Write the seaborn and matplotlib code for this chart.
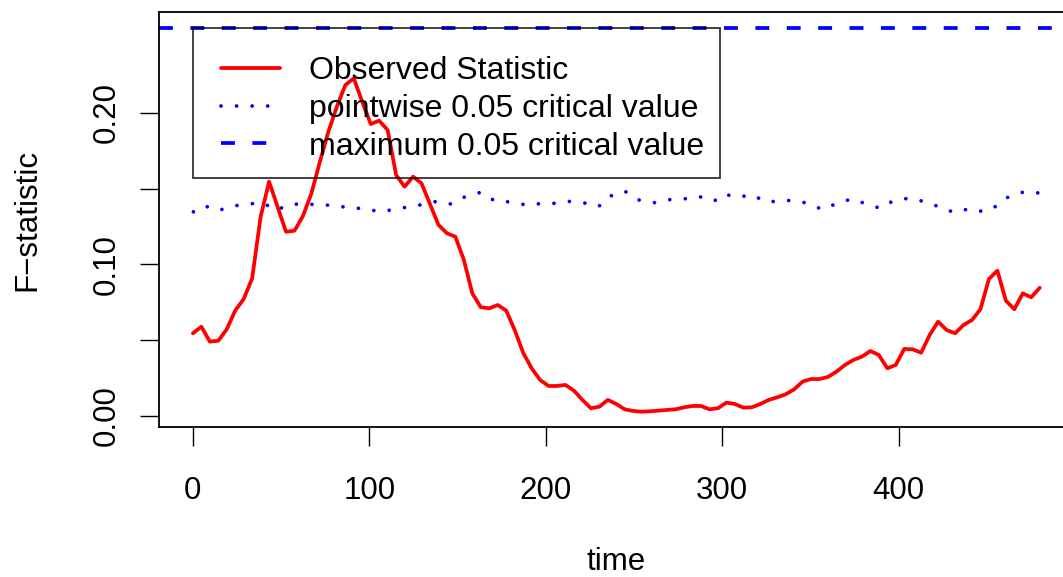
import numpy as np
import pandas as pd
import matplotlib
matplotlib.use("Agg")
import matplotlib.pyplot as plt
from matplotlib.lines import Line2D
from matplotlib.legend_handler import HandlerLine2D
import seaborn as sns

# ---------------- data ----------------
time = np.linspace(0, 480, 101)
observed = [0.0544, 0.0588, 0.0489, 0.0495, 0.0571, 0.0694, 0.0771, 0.0907, 0.1314, 0.1546,
            0.1380, 0.1215, 0.1222, 0.1319, 0.1469, 0.1678, 0.1876, 0.2041, 0.2184, 0.2229,
            0.2073, 0.1927, 0.1949, 0.1887, 0.1590, 0.1513, 0.1579, 0.1535, 0.1398, 0.1260,
            0.1205, 0.1182, 0.1028, 0.0808, 0.0716, 0.0709, 0.0731, 0.0694, 0.0566, 0.0416,
            0.0313, 0.0236, 0.0196, 0.0196, 0.0203, 0.0165, 0.0104, 0.0049, 0.0059, 0.0104,
            0.0077, 0.0042, 0.0031, 0.0026, 0.0029, 0.0033, 0.0038, 0.0042, 0.0055, 0.0064,
            0.0064, 0.0042, 0.0049, 0.0086, 0.0077, 0.0053, 0.0055, 0.0077, 0.0104, 0.0121,
            0.0141, 0.0174, 0.0225, 0.0242, 0.0242, 0.0256, 0.0291, 0.0335, 0.0368, 0.0390,
            0.0427, 0.0401, 0.0313, 0.0335, 0.0441, 0.0438, 0.0416, 0.0533, 0.0621, 0.0566,
            0.0544, 0.0599, 0.0632, 0.0703, 0.0903, 0.0958, 0.0760, 0.0703, 0.0808, 0.0782,
            0.0845]

pointwise_time = [0.3, 6.6, 14.0, 23.0, 31.9, 40.0, 47.2, 56.1, 64.4, 72.0,
                  81.1, 89.2, 97.3, 106.3, 113.4, 120.5, 129.6, 138.3, 146.4, 154.4,
                  163.3, 171.2, 180.1, 188.8, 196.3, 204.8, 213.9, 222.0, 229.8, 236.7,
                  244.7, 252.8, 261.5, 270.2, 278.1, 286.6, 295.5, 301.3, 308.4, 317.1,
                  324.4, 331.2, 339.7, 348.8, 356.9, 365.1, 373.8, 382.1, 389.8, 396.7,
                  405.3, 414.2, 422.9, 431.4, 440.1, 448.4, 455.2, 462.4, 470.9, 480.0]
pointwise_crit = [0.1347, 0.1387, 0.1354, 0.1385, 0.1400, 0.1403, 0.1359, 0.1398, 0.1396, 0.1396,
                  0.1385, 0.1374, 0.1367, 0.1347, 0.1361, 0.1376, 0.1394, 0.1416, 0.1398, 0.1447,
                  0.1476, 0.1418, 0.1412, 0.1392, 0.1400, 0.1403, 0.1416, 0.1405, 0.1380, 0.1451,
                  0.1484, 0.1425, 0.1407, 0.1427, 0.1431, 0.1449, 0.1418, 0.1464, 0.1442, 0.1460,
                  0.1413, 0.1416, 0.1423, 0.1403, 0.1361, 0.1403, 0.1433, 0.1396, 0.1370, 0.1418,
                  0.1436, 0.1416, 0.1380, 0.1343, 0.1367, 0.1347, 0.1383, 0.1447, 0.1478, 0.1471]
max_crit = 0.2563

legend_labels = ["Observed Statistic", "pointwise 0.05 critical value",
                 "maximum 0.05 critical value"]
x_ticks = [0, 100, 200, 300, 400]
y_ticks = [0.00, 0.05, 0.10, 0.15, 0.20]
y_tick_labels = ["0.00", "", "0.10", "", "0.20"]

# ---------------- style ----------------
sns.set_theme(style="white")
plt.rcParams["font.family"] = ["Liberation Sans", "DejaVu Sans"]
plt.rcParams["lines.scale_dashes"] = False
for key in ["text.color", "axes.labelcolor", "xtick.color", "ytick.color",
            "axes.edgecolor"]:
    plt.rcParams[key] = "black"

FS = 22.5
LFS = 23
LW = 2.7
DOT = (0, (0.01, 11.2))
DASH = (0, (10.0, 12.6))

fig = plt.figure(figsize=(10.63, 5.77), dpi=100)
ax = fig.add_axes([159 / 1063, 150 / 577, 914.6 / 1063, 414.7 / 577])

obs_df = pd.DataFrame({"time": time, "stat": observed})
pw_df = pd.DataFrame({"time": pointwise_time, "crit": pointwise_crit})

sns.lineplot(data=obs_df, x="time", y="stat", ax=ax, color="#FF0000", lw=LW,
             estimator=None, sort=False, solid_joinstyle="round")
sns.lineplot(data=pw_df, x="time", y="crit", ax=ax, color="#0000FF", lw=LW,
             estimator=None, sort=False, linestyle=DOT, dash_capstyle="round")
ax.axhline(max_crit, color="#0000FF", lw=LW, linestyle=DASH, dash_capstyle="butt")

ax.set_xlim(-19.2, 499.2)
ax.set_ylim(-0.0075, 0.2665)
ax.set_xticks(x_ticks)
ax.set_xticklabels([str(t) for t in x_ticks])
ax.set_yticks(y_ticks)
ax.set_yticklabels(y_tick_labels, rotation=90, va="center")
ax.tick_params(axis="both", which="major", labelsize=FS, length=14, width=1.0,
               color="black", labelcolor="black", direction="out")
ax.tick_params(axis="x", pad=21, bottom=True)
ax.tick_params(axis="y", pad=13, left=True)

for sp in ax.spines.values():
    sp.set_color("black")
    sp.set_linewidth(1.3)

ax.set_xlabel("time", fontsize=FS, color="black")
ax.set_ylabel("F\u2212statistic", fontsize=FS, color="black")
ax.xaxis.set_label_coords(0.5, (427 - 562) / 414.7)
ax.xaxis.label.set_va("center")
ax.yaxis.set_label_coords((27 - 159) / 914.6, 0.5)
ax.yaxis.label.set_va("center")
ax.yaxis.label.set_ha("center")

handles = [
    Line2D([], [], color="#FF0000", lw=LW),
    Line2D([], [], color="#0000FF", lw=LW, linestyle=DOT, dash_capstyle="round"),
    Line2D([], [], color="#0000FF", lw=LW, linestyle=DASH, dash_capstyle="butt"),
]
hl = HandlerLine2D(numpoints=2, marker_pad=0.376)
leg = ax.legend(handles, legend_labels, loc="upper left",
                bbox_to_anchor=(0, max_crit), bbox_transform=ax.transData,
                frameon=True, fancybox=False, shadow=False, borderaxespad=0,
                handlelength=2.6, handletextpad=0.53, borderpad=0.5,
                labelspacing=0.25, fontsize=LFS, title=" ", title_fontsize=2.5,
                handler_map={Line2D: hl})
for t in leg.get_texts():
    t.set_color("black")
frame = leg.get_frame()
frame.set_edgecolor("black")
frame.set_facecolor("none")
frame.set_linewidth(1.3)

fig.savefig("out.png", dpi=100)
